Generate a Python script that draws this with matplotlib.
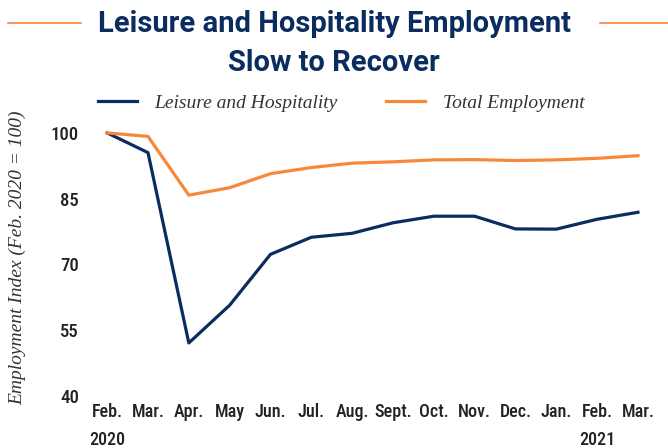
import matplotlib
matplotlib.use("Agg")
import matplotlib.pyplot as plt
import matplotlib.transforms as mtransforms

months = ["Feb.", "Mar.", "Apr.", "May", "Jun.", "Jul.", "Aug.", "Sept.", "Oct.", "Nov.", "Dec.", "Jan.", "Feb.", "Mar."]
years = {0: "2020", 12: "2021"}
leisure = [100, 95.5, 52.1, 60.7, 72.3, 76.2, 77.1, 79.5, 81.0, 81.0, 78.1, 78.05, 80.3, 81.9]
total = [100, 99.2, 85.8, 87.5, 90.7, 92.1, 93.1, 93.4, 93.85, 93.9, 93.7, 93.85, 94.2, 94.8]
yticks = [40, 55, 70, 85, 100]

navy = "#0b2c5e"
orange = "#f7883a"
grey = "#222222"
sans = ["Roboto Condensed", "Roboto", "DejaVu Sans"]
serif = ["Liberation Serif", "DejaVu Serif"]

fig = plt.figure(figsize=(6.68, 4.48), dpi=100)
ax = fig.add_axes([90/668, 52/448, 570/668, 271/448])
x = list(range(len(months)))
ax.plot(x, leisure, color=navy, lw=2.3, label="Leisure and Hospitality")
ax.plot(x, total, color=orange, lw=2.3, label="Total Employment")
ax.set_xlim(-0.42, 13.54)
ax.set_ylim(40, 101.8)
for s in ax.spines.values():
    s.set_visible(False)
ax.set_yticks(yticks)
ax.set_yticklabels([str(v) for v in yticks], fontfamily=sans, fontsize=13.5, fontweight="medium", color=grey)
ax.set_xticks(x)
ax.set_xticklabels(months, fontfamily=sans, fontsize=13, fontweight="medium", color=grey)
ax.tick_params(length=0, axis="y", pad=8)
ax.tick_params(length=0, axis="x", pad=5)

# year labels under the first Feb. of each year
trans = mtransforms.blended_transform_factory(ax.transData, fig.transFigure)
for i, yr in years.items():
    ax.text(i, 8/448, yr, transform=trans, ha="center", va="center",
            fontfamily=sans, fontsize=13, fontweight="medium", color=grey)

fig.text(18/668, 1 - 258/448, "Employment Index (Feb. 2020 = 100)", rotation=90, ha="center", va="center",
         fontfamily=serif, style="italic", fontsize=14, color="#333333")

fig.text(0.5, 1 - 24/448, "Leisure and Hospitality Employment", ha="center", va="center",
         fontfamily="Roboto", fontsize=21, color=navy, fontweight="bold")
fig.text(0.5, 1 - 63/448, "Slow to Recover", ha="center", va="center",
         fontfamily="Roboto", fontsize=21, color=navy, fontweight="bold")
fig.add_artist(plt.Line2D([8/668, 81/668], [1 - 23/448] * 2, color=orange, lw=1.2))
fig.add_artist(plt.Line2D([600/668, 1.0], [1 - 23/448] * 2, color=orange, lw=1.2))

leg = fig.legend(loc="center", bbox_to_anchor=(341/668, 1 - 103/448), ncol=2, frameon=False,
                 prop={"family": serif, "style": "italic", "size": 14},
                 handlelength=2.0, columnspacing=2.5, handletextpad=0.9)
for t in leg.get_texts():
    t.set_color("#333333")

fig.savefig("out.png", dpi=100)
